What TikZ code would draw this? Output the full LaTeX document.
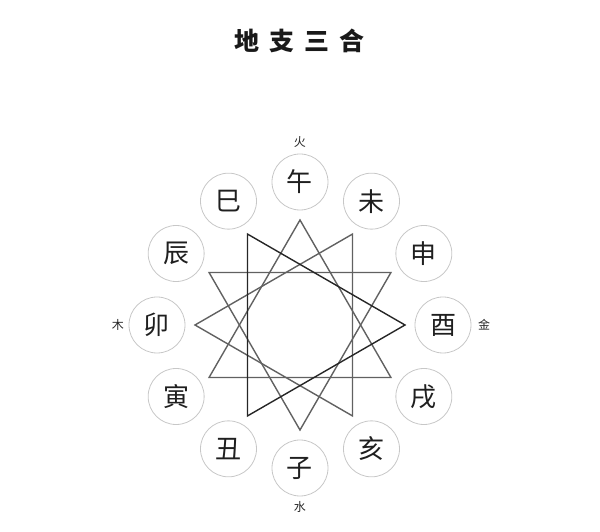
\documentclass[tikz,border=0pt]{standalone}
\usepackage{fontspec}
\newfontfamily\cjk{Noto Sans CJK SC}
\usetikzlibrary{positioning}

\begin{document}
\begin{tikzpicture}[x=1pt,y=1pt,
    branch/.style={circle,draw=black!22,line width=0.8pt,minimum size=56pt,inner sep=0pt,
      font=\cjk\fontsize{26}{26}\selectfont,text=black!88},
    element/.style={font=\cjk\fontsize{12}{12}\selectfont,text=black!85},
    trio/.style={draw=black!62,line width=1.4pt,line join=miter}]
    \useasboundingbox (-300,-207) rectangle (300,325);

    \node[font=\cjk\bfseries\fontsize{25}{25}\selectfont,text=black!90] (title) at (0,284)
    {地\hspace{10pt}支\hspace{10pt}三\hspace{10pt}合};

    \foreach \i/\b/\ch in {0/zi/子,1/chou/丑,2/yin/寅,3/mao/卯,4/chen/辰,5/si/巳,
      6/wu/午,7/wei/未,8/shen/申,9/you/酉,10/xu/戌,11/hai/亥}
    {
    \node[branch] (\b) at ({270-30*\i}:143) {\ch};
    \coordinate (v\i) at ({270-30*\i}:105);
    }

    \node[element] (fire) at (90:183) {火};
    \node[element] (water) at (270:182) {水};
    \node[element] (wood) at (180:182) {木};
    \node[element] (metal) at (0:184) {金};

    \draw[trio] (v0) -- (v4) -- (v8) -- cycle;
    \draw[trio] (v2) -- (v6) -- (v10) -- cycle;
    \draw[trio] (v3) -- (v7) -- (v11) -- cycle;
    \draw[trio,draw=black!85] (v1) -- (v5) -- (v9) -- cycle;
\end{tikzpicture}
\end{document}
